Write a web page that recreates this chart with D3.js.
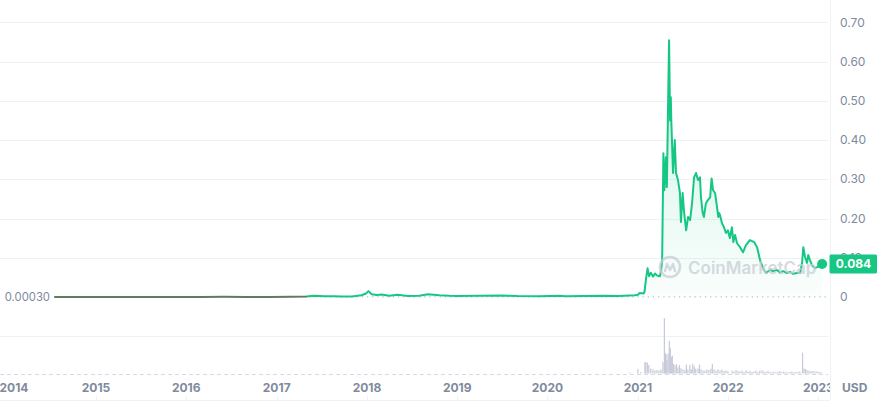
<!DOCTYPE html>
<html>
<head>
<meta charset="utf-8">
<script src="https://cdn.jsdelivr.net/npm/d3@7"></script>
<style>
  html, body { margin: 0; padding: 0; background: #ffffff; }
  svg { display: block; font-family: Inter, "Noto Sans", sans-serif; }
</style>
</head>
<body>
<svg id="chart" width="882" height="402"></svg>
<script>
// ---------- DATA ----------
const priceDates = [
  "2014-07-19","2014-09-15","2014-12-01","2015-03-01","2015-06-01","2015-09-01","2015-12-01",
  "2016-03-01","2016-06-01","2016-09-01","2016-12-01","2017-03-01","2017-05-01","2017-06-01",
  "2017-07-15","2017-08-20","2017-09-20","2017-11-01","2017-12-10","2017-12-28","2018-01-07",
  "2018-01-20","2018-02-10","2018-03-01","2018-04-01","2018-05-05","2018-06-15","2018-08-01",
  "2018-09-05","2018-10-20","2018-12-01","2019-01-01","2019-04-05","2019-06-25","2019-09-01",
  "2019-12-01","2020-02-15","2020-03-15","2020-06-01","2020-08-15","2020-10-15","2020-12-20",
  "2021-01-01","2021-01-08","2021-01-24","2021-01-28","2021-02-02","2021-02-09","2021-02-15",
  "2021-02-22","2021-03-03","2021-03-11","2021-03-19","2021-03-26","2021-03-31","2021-04-05",
  "2021-04-09","2021-04-14","2021-04-18","2021-04-24","2021-04-28","2021-05-07","2021-05-11",
  "2021-05-14","2021-05-16","2021-05-23","2021-05-30","2021-06-04","2021-06-12","2021-06-20",
  "2021-06-24","2021-07-01","2021-07-06","2021-07-15","2021-07-23","2021-07-31","2021-08-08",
  "2021-08-16","2021-08-24","2021-09-01","2021-09-09","2021-09-13","2021-09-20","2021-09-25",
  "2021-10-03","2021-10-11","2021-10-20","2021-10-26","2021-11-01","2021-11-09","2021-11-17",
  "2021-11-22","2021-11-25","2021-11-29","2021-12-07","2021-12-15","2021-12-23","2021-12-31",
  "2022-01-08","2022-01-16","2022-01-22","2022-01-29","2022-02-06","2022-02-18","2022-03-02",
  "2022-03-14","2022-03-30","2022-04-16","2022-04-28","2022-05-10","2022-05-22","2022-06-03",
  "2022-06-19","2022-07-01","2022-07-18","2022-07-30","2022-08-11","2022-08-27","2022-09-08",
  "2022-09-20","2022-10-07","2022-10-19","2022-10-27","2022-11-01","2022-11-08","2022-11-16",
  "2022-11-21","2022-11-28","2022-12-06","2022-12-18","2022-12-27","2023-01-08","2023-01-16"
];
const priceValues = [
  0.00030,0.00022,0.00020,0.00015,0.00013,0.00013,0.00016,
  0.00029,0.00033,0.00023,0.00023,0.00040,0.0010,0.0033,
  0.0022,0.0020,0.0010,0.0013,0.0045,0.0090,0.0150,
  0.0070,0.0050,0.0065,0.0032,0.0055,0.0028,0.0030,
  0.0070,0.0045,0.0030,0.0024,0.0035,0.0040,0.0025,
  0.0022,0.0030,0.0017,0.0026,0.0034,0.0026,0.0045,
  0.0057,0.0100,0.0090,0.0140,0.043,0.073,0.053,
  0.062,0.052,0.060,0.055,0.053,0.053,0.069,
  0.094,0.366,0.272,0.356,0.280,0.654,0.450,
  0.509,0.450,0.316,0.400,0.316,0.298,0.265,
  0.191,0.265,0.221,0.170,0.204,0.196,0.239,
  0.305,0.316,0.298,0.305,0.254,0.214,0.204,
  0.239,0.247,0.254,0.302,0.272,0.265,0.229,
  0.204,0.214,0.209,0.188,0.178,0.163,0.170,
  0.150,0.178,0.140,0.158,0.137,0.127,0.114,
  0.132,0.145,0.140,0.127,0.094,0.074,0.061,
  0.069,0.066,0.069,0.062,0.066,0.061,0.064,
  0.059,0.061,0.061,0.087,0.127,0.102,0.087,
  0.107,0.094,0.081,0.074,0.076,0.081,0.084
];

const volumeDates = [
  "2020-11-30","2021-01-01","2021-01-13","2021-01-29","2021-02-02","2021-02-08","2021-02-14",
  "2021-02-22","2021-03-03","2021-03-11","2021-03-19","2021-03-27","2021-04-04","2021-04-12",
  "2021-04-18","2021-04-22","2021-04-25","2021-04-29","2021-05-03","2021-05-08","2021-05-12",
  "2021-05-16","2021-05-20","2021-05-25","2021-05-31","2021-06-06","2021-06-12","2021-06-18",
  "2021-06-24","2021-07-02","2021-07-10","2021-07-16","2021-07-22","2021-07-30","2021-08-05",
  "2021-08-11","2021-08-17","2021-08-23","2021-09-01","2021-09-07","2021-09-13","2021-09-21",
  "2021-09-29","2021-10-07","2021-10-15","2021-10-23","2021-10-29","2021-11-05","2021-11-13",
  "2021-11-21","2021-11-29","2021-12-07","2021-12-15","2021-12-23","2021-12-31","2022-01-17",
  "2022-01-25","2022-02-02","2022-02-10","2022-02-18","2022-02-26","2022-03-06","2022-03-14",
  "2022-03-22","2022-03-30","2022-04-07","2022-04-15","2022-04-23","2022-05-01","2022-05-09",
  "2022-05-18","2022-05-26","2022-06-03","2022-06-11","2022-06-19","2022-06-27","2022-07-05",
  "2022-07-13","2022-07-21","2022-07-29","2022-08-06","2022-08-14","2022-08-22","2022-08-31",
  "2022-09-08","2022-09-16","2022-09-24","2022-10-02","2022-10-10","2022-10-18","2022-10-29",
  "2022-11-04","2022-11-10","2022-11-16","2022-11-24","2022-12-02","2022-12-10","2022-12-18",
  "2022-12-26","2023-01-03","2023-01-11"
];
const volumeValues = [
  1.2,5.5,1.8,14,14,13.5,10.5,
  6,5,3.7,4.3,3.7,5,14,
  68,25,23,16.5,24.5,40,31,
  20,22,12,10,11.5,7.5,10.5,
  6.5,5,4.5,11,5,10.5,5,
  12,8.5,6,6,11,5,3.7,
  3.7,5,4.3,6,12,5,3.7,
  5,3.7,5,3,3.7,3,3.5,
  2.5,4,3,2.5,3.5,2,4,
  2.5,3,2,2.5,3.5,2,3.5,
  4,2.5,2,3,2,1.5,2.5,
  1.5,2,3,1.5,2.5,2,1.5,
  2,2.5,1.5,2,2,2.5,25.5,
  6,5.5,4,3.5,3,3,2.5,
  2.5,2,2
];

const yTickValues = [0, 0.1, 0.2, 0.3, 0.4, 0.5, 0.6, 0.7];
const yTickLabels = ["0", "0.10", "0.20", "0.30", "0.40", "0.50", "0.60", "0.70"];
const yearTicks = [2014, 2015, 2016, 2017, 2018, 2019, 2020, 2021, 2022, 2023];
const startPrice = 0.0003;
const startPriceLabel = "0.00030";
const lastPriceLabel = "0.084";
const currencyLabel = "USD";
const greenSince = "2017-05-03";

// ---------- SETUP ----------
const GREEN = "#16c784";
const OLIVE = "#5f7c5d";
const GRID = "#eff2f5";
const TEXT = "#808a9d";

const parse = d3.utcParse("%Y-%m-%d");
const prices = priceDates.map((d, i) => ({ date: parse(d), value: priceValues[i] }));
const volumes = volumeDates.map((d, i) => ({ date: parse(d), value: volumeValues[i] }));

const svg = d3.select("#chart");
const W = 882, H = 402;
const plotRight = 828;

const x = d3.scaleUtc()
  .domain([Date.UTC(2015, 0, 1), Date.UTC(2023, 0, 1)])
  .range([96, 818.4]);
const y = d3.scaleLinear().domain([0, 0.7]).range([297, 22.3]);
const yVol = d3.scaleLinear().domain([0, 70]).range([373.5, 316.5]);

const defs = svg.append("defs");
defs.append("clipPath").attr("id", "plotClip")
  .append("rect").attr("x", 0).attr("y", 0).attr("width", 830).attr("height", H);

const areaGrad = defs.append("linearGradient").attr("id", "areaGrad")
  .attr("gradientUnits", "userSpaceOnUse")
  .attr("x1", 0).attr("x2", 0).attr("y1", y(0.65)).attr("y2", y(0));
areaGrad.append("stop").attr("offset", 0).attr("stop-color", GREEN).attr("stop-opacity", 0.22);
areaGrad.append("stop").attr("offset", 1).attr("stop-color", GREEN).attr("stop-opacity", 0.02);

const switchOffset = x(parse(greenSince)) / W;
const lineGrad = defs.append("linearGradient").attr("id", "lineGrad")
  .attr("gradientUnits", "userSpaceOnUse")
  .attr("x1", 0).attr("x2", W).attr("y1", 0).attr("y2", 0);
lineGrad.append("stop").attr("offset", 0).attr("stop-color", OLIVE);
lineGrad.append("stop").attr("offset", switchOffset).attr("stop-color", OLIVE);
lineGrad.append("stop").attr("offset", switchOffset).attr("stop-color", GREEN);
lineGrad.append("stop").attr("offset", 1).attr("stop-color", GREEN);

// ---------- GRID ----------
const gridVals = yTickValues.filter(v => v > 0).concat([-0.1]);
svg.append("g").selectAll("line").data(gridVals).join("line")
  .attr("x1", 0).attr("x2", plotRight)
  .attr("y1", d => Math.round(y(d)) + 0.5).attr("y2", d => Math.round(y(d)) + 0.5)
  .attr("stroke", GRID).attr("stroke-width", 1);

// right border
svg.append("line").attr("x1", 830.5).attr("x2", 830.5).attr("y1", 0).attr("y2", 400)
  .attr("stroke", GRID).attr("stroke-width", 1);
// bottom border
svg.append("line").attr("x1", 0).attr("x2", 830).attr("y1", 400.5).attr("y2", 400.5)
  .attr("stroke", GRID).attr("stroke-width", 1);

// volume dashed baseline
svg.append("line").attr("x1", 0).attr("x2", plotRight)
  .attr("y1", 374.5).attr("y2", 374.5)
  .attr("stroke", "#d5d9e2").attr("stroke-width", 1).attr("stroke-dasharray", "4,3");

// ---------- VOLUME ----------
svg.append("g").attr("clip-path", "url(#plotClip)")
  .selectAll("rect").data(volumes).join("rect")
  .attr("x", d => x(d.date) - 0.6)
  .attr("width", 1.2)
  .attr("y", d => yVol(d.value))
  .attr("height", d => yVol(0) - yVol(d.value))
  .attr("fill", "#c6c9d8");

// ---------- AREA + LINE ----------
const area = d3.area().x(d => x(d.date)).y0(y(0)).y1(d => y(d.value)).curve(d3.curveLinear);
const line = d3.line().x(d => x(d.date)).y(d => y(d.value)).curve(d3.curveLinear);

const plot = svg.append("g").attr("clip-path", "url(#plotClip)");
plot.append("path").datum(prices).attr("d", area).attr("fill", "url(#areaGrad)");

// start price dotted line
plot.append("line")
  .attr("x1", x(prices[0].date)).attr("x2", plotRight)
  .attr("y1", y(startPrice)).attr("y2", y(startPrice))
  .attr("stroke", "#a6adbb").attr("stroke-width", 1).attr("stroke-dasharray", "1.2,4");

plot.append("path").datum(prices).attr("d", line)
  .attr("fill", "none").attr("stroke", "url(#lineGrad)")
  .attr("stroke-width", 2).attr("stroke-linejoin", "round").attr("stroke-linecap", "round");

// ---------- WATERMARK ----------
const wm = svg.append("g").attr("opacity", 0.75);
const wmX = 670, wmY = 267;
wm.append("circle").attr("cx", wmX).attr("cy", wmY).attr("r", 10)
  .attr("fill", "none").attr("stroke", "#c9cdd7").attr("stroke-width", 2.6);
wm.append("path")
  .attr("d", `M${wmX - 5},${wmY + 4} L${wmX - 3},${wmY - 3} L${wmX},${wmY + 3} L${wmX + 3},${wmY - 3} L${wmX + 5},${wmY + 4}`)
  .attr("fill", "none").attr("stroke", "#c9cdd7").attr("stroke-width", 2.4)
  .attr("stroke-linejoin", "round").attr("stroke-linecap", "round");
wm.append("text").attr("x", 688).attr("y", 273.5)
  .attr("font-size", 17).attr("font-weight", 600).attr("fill", "#c9cdd7")
  .text("CoinMarketCap");

// ---------- LAST POINT ----------
const last = prices[prices.length - 1];
svg.append("circle").attr("cx", x(last.date)).attr("cy", y(last.value)).attr("r", 5)
  .attr("fill", GREEN);

// ---------- Y AXIS LABELS ----------
svg.append("g").selectAll("text").data(yTickValues).join("text")
  .attr("x", 840).attr("y", d => y(d))
  .attr("dy", "0.35em")
  .attr("font-size", 12).attr("fill", TEXT)
  .text((d, i) => yTickLabels[i]);

// last price box (covers the 0.10 tick label, as in the original)
const lastY = y(last.value);
svg.append("rect").attr("x", 829.5).attr("y", lastY - 9.5).attr("width", 47.5).attr("height", 19)
  .attr("rx", 1.5).attr("fill", GREEN);
svg.append("text").attr("x", 853.5).attr("y", lastY).attr("dy", "0.36em")
  .attr("text-anchor", "middle").attr("font-size", 12).attr("font-weight", 700)
  .attr("fill", "#ffffff").text(lastPriceLabel);

// start price label
svg.append("text").attr("x", 50).attr("y", y(startPrice)).attr("dy", "0.35em")
  .attr("text-anchor", "end").attr("font-size", 11.3).attr("fill", TEXT)
  .text(startPriceLabel);

// ---------- X AXIS LABELS ----------
const xLab = svg.append("g").attr("clip-path", "url(#plotClip)");
xLab.selectAll("text").data(yearTicks).join("text")
  .attr("x", d => Math.max(x(Date.UTC(d, 0, 1)), 14))
  .attr("y", 388).attr("dy", "0.35em")
  .attr("text-anchor", "middle")
  .attr("font-size", 12).attr("font-weight", 700).attr("fill", TEXT)
  .text(d => String(d));
xLab.selectAll("line").data(yearTicks.slice(1)).join("line")
  .attr("x1", d => Math.round(x(Date.UTC(d, 0, 1))) + 0.5)
  .attr("x2", d => Math.round(x(Date.UTC(d, 0, 1))) + 0.5)
  .attr("y1", 396).attr("y2", 400)
  .attr("stroke", GRID);

svg.append("text").attr("x", 842).attr("y", 388).attr("dy", "0.35em")
  .attr("font-size", 12).attr("font-weight", 700).attr("fill", TEXT)
  .text(currencyLabel);
</script>
</body>
</html>
